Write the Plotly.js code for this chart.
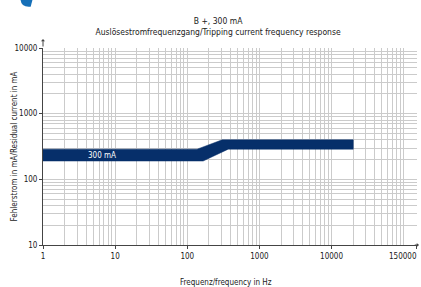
<!DOCTYPE html>
<html><head><meta charset="utf-8">
<script src="https://cdn.plot.ly/plotly-3.0.1.min.js"></script>
<style>html,body{margin:0;padding:0;background:#fff}#chart{width:421px;height:287px}</style>
</head><body><div id="chart"></div>
<script>
// Band edges (frequency in Hz, residual current in mA)
const topFreq = [1, 137, 305, 20000];
const topCurrent = [288, 288, 400, 400];
const bottomFreq = [1, 166, 370, 20000];
const bottomCurrent = [190, 190, 288, 288];
const bandLabel = "300 mA";

const xTickVals = [1, 10, 100, 1000, 10000, 150000];
const xTickText = ["1", "10", "100", "1000", "10000", ""];
const xLastLabel = "150000";
const xMinorVals = [2,3,4,5,6,7,8,9,20,30,40,50,60,70,80,90,200,300,400,500,600,700,800,900,
  2000,3000,4000,5000,6000,7000,8000,9000,20000,30000,40000,50000,60000,70000,80000,90000,100000];
const yTickVals = [10, 100, 1000, 10000];
const yTickText = ["10", "100", "1000", "10000"];
const yMinorVals = [20,30,40,50,60,70,80,90,200,300,400,500,600,700,800,900,2000,3000,4000,5000,6000,7000,8000,9000];

const F = "DejaVu Sans Condensed, Liberation Sans Narrow, Arial Narrow, sans-serif";
const navy = "#062f6a";
const grid = "#cbcbcb";
const txt = "#1a1a1a";

const bandX = topFreq.concat(bottomFreq.slice().reverse());
const bandY = topCurrent.concat(bottomCurrent.slice().reverse());

const trace = {
  x: bandX, y: bandY, type: "scatter", mode: "lines",
  fill: "toself", fillcolor: navy, line: {color: navy, width: 0.5},
  hoverinfo: "skip", showlegend: false
};

const layout = {
  width: 421, height: 287,
  margin: {l: 43, r: 4, t: 48, b: 42},
  paper_bgcolor: "#fff", plot_bgcolor: "#fff",
  font: {family: F, size: 8, color: txt},
  title: {
    text: "B +, 300 mA<br>Auslösestromfrequenzgang/Tripping current frequency response",
    font: {family: F, size: 8.5, color: txt},
    x: 0.518, xanchor: "center", y: 0.915, yanchor: "top"
  },
  xaxis: {
    type: "log", range: [0, 5.185],
    tickmode: "array", tickvals: xTickVals, ticktext: xTickText,
    showgrid: true, gridcolor: grid, gridwidth: 1,
    minor: {tickmode: "array", tickvals: xMinorVals, showgrid: true, gridcolor: grid, gridwidth: 1, ticks: ""},
    ticks: "outside", ticklen: 3, tickcolor: "#444",
    showline: true, linecolor: "#444", linewidth: 1, zeroline: false,
    tickfont: {family: F, size: 8, color: txt}
  },
  yaxis: {
    type: "log", range: [1, 4],
    tickmode: "array", tickvals: yTickVals, ticktext: yTickText,
    showgrid: true, gridcolor: grid, gridwidth: 1,
    minor: {tickmode: "array", tickvals: yMinorVals, showgrid: true, gridcolor: grid, gridwidth: 1, ticks: ""},
    ticks: "outside", ticklen: 3, tickcolor: "#444",
    showline: true, linecolor: "#444", linewidth: 1, zeroline: false,
    tickfont: {family: F, size: 8, color: txt}
  },
  annotations: [
    {x: Math.log10(6.5), y: Math.log10(Math.sqrt(topCurrent[0] * bottomCurrent[0])), xref: "x", yref: "y",
     text: bandLabel, showarrow: false, font: {family: F, size: 8, color: "#fff"}},
    {x: 1.0, y: -0.025, xref: "paper", yref: "paper", xanchor: "right", yanchor: "top", xshift: 2,
     text: xLastLabel, showarrow: false, font: {family: F, size: 8, color: txt}},
    {x: 0.49, y: -0.19, xref: "paper", yref: "paper", xanchor: "center", yanchor: "middle",
     text: "Frequenz/frequency in Hz", showarrow: false, font: {family: F, size: 8, color: txt}},
    {x: -0.075, y: 0.5, xref: "paper", yref: "paper", xanchor: "center", yanchor: "middle", textangle: -90,
     text: "Fehlerstrom in mA/Residual current in mA", showarrow: false, font: {family: F, size: 8, color: txt}},
    {x: 0, y: 1.045, ax: 0, ay: 1.0, xref: "paper", yref: "paper", axref: "paper", ayref: "paper",
     text: "", showarrow: true, arrowhead: 1, arrowsize: 0.7, arrowwidth: 1, arrowcolor: "#444"},
    {x: 1.005, y: 0, ax: 0.99, ay: 0, xref: "paper", yref: "paper", axref: "paper", ayref: "paper",
     text: "", showarrow: true, arrowhead: 1, arrowsize: 0.7, arrowwidth: 1, arrowcolor: "#444"}
  ],
  shapes: [
    {type: "path", xref: "paper", yref: "paper", path: "M -0.06 1.245 Q -0.058 1.205 -0.033 1.21 L -0.028 1.245 Z",
     fillcolor: "#1670b8", line: {width: 0}}
  ]
};

Plotly.newPlot("chart", [trace], layout, {displayModeBar: false, staticPlot: true});
</script></body></html>
